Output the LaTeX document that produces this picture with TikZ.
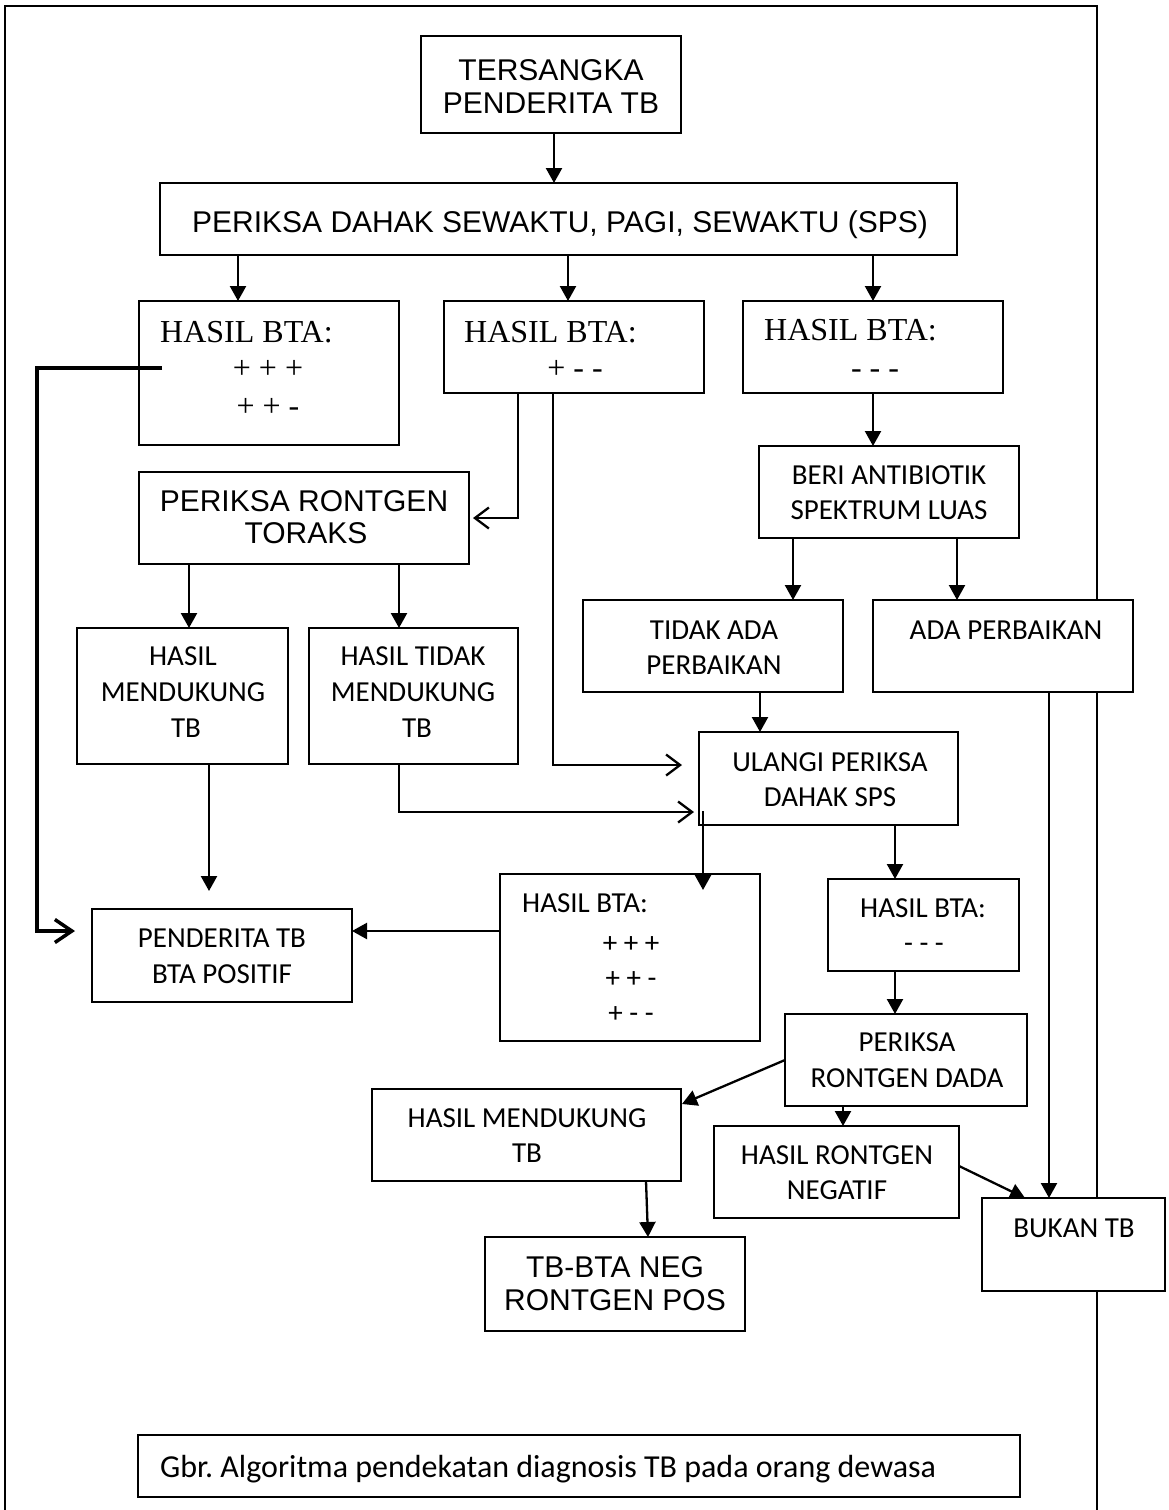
\documentclass[tikz,border=0pt]{standalone}
\usepackage{fontspec}
\setmainfont{Carlito}
\newfontfamily\fA{Liberation Sans}
\newfontfamily\fT{Liberation Serif}
\newfontfamily\fC{Carlito}
\usetikzlibrary{arrows.meta,calc}
\frenchspacing
\begin{document}
\begin{tikzpicture}[x=1pt,y=-1pt,
  bx/.style={draw, line width=1.4pt, fill=white, inner sep=0pt, outer sep=0pt, rectangle},
  ln/.style={line width=2.3pt},
  fa/.style={ln, -{Triangle[length=15pt,width=16pt]}},
  oa/.style={ln, -{Straight Barb[length=14pt,width=21pt]}},
  thk/.style={line width=3.5pt, -{Straight Barb[length=17pt,width=23pt]}},
  frm/.style={line width=1.5pt},
  tA/.style={inner sep=0pt, anchor=base, font=\fA\fontsize{30pt}{33pt}\selectfont},
  tT/.style={inner sep=0pt, anchor=base west, font=\fT\fontsize{32pt}{36pt}\selectfont},
  tTc/.style={tT, anchor=base},
  tC/.style={inner sep=0pt, anchor=base, font=\fC\fontsize{29pt}{34pt}\selectfont},
  tCl/.style={tC, anchor=base west},
  tCap/.style={inner sep=0pt, anchor=base west, font=\fC\fontsize{32pt}{36pt}\selectfont}
]
\useasboundingbox (0,0) rectangle (1168,1510);
\fill[white] (0,0) rectangle (1168,1510);
% outer frame
\draw[frm] (5,1512) -- (5,6) -- (1097,6) -- (1097,1512);

% boxes
\node[bx, minimum width=260pt, minimum height=97pt] (ters) at (551,84.5) {};
\node[bx, minimum width=797pt, minimum height=72pt] (dahak) at (558.5,219) {};
\node[bx, minimum width=260pt, minimum height=144pt] (bta1) at (269,373) {};
\node[bx, minimum width=260pt, minimum height=92pt] (bta2) at (574,347) {};
\node[bx, minimum width=260pt, minimum height=92pt] (bta3) at (873,347) {};
\node[bx, minimum width=330pt, minimum height=92pt] (rontgen) at (304,518) {};
\node[bx, minimum width=260pt, minimum height=92pt] (beri) at (889,492) {};
\node[bx, minimum width=211pt, minimum height=136pt] (hm1) at (182.5,696) {};
\node[bx, minimum width=209pt, minimum height=136pt] (htm) at (413.5,696) {};
\node[bx, minimum width=260pt, minimum height=92pt] (tidak) at (713,646) {};
\node[bx, minimum width=260pt, minimum height=92pt] (ada) at (1003,646) {};
\node[bx, minimum width=259pt, minimum height=93pt] (ulangi) at (828.5,778.5) {};
\node[bx, minimum width=260pt, minimum height=93pt] (pend) at (222,955.5) {};
\node[bx, minimum width=260pt, minimum height=167pt] (bta4) at (630,957.5) {};
\node[bx, minimum width=191pt, minimum height=92pt] (bta5) at (923.5,925) {};
\node[bx, minimum width=242pt, minimum height=92pt] (prd) at (906,1060) {};
\node[bx, minimum width=309pt, minimum height=92pt] (hm2) at (526.5,1135) {};
\node[bx, minimum width=245pt, minimum height=92pt] (hrn) at (836.5,1172) {};
\node[bx, minimum width=183pt, minimum height=93pt] (bukan) at (1073.5,1244.5) {};
\node[bx, minimum width=260pt, minimum height=94pt] (tbneg) at (615,1284) {};
\node[bx, minimum width=882pt, minimum height=62pt] (cap) at (579,1466) {};

% texts
\node[tA] (t1) at (551,80) {TERSANGKA};
\node[tA] (t2) at (551,113) {PENDERITA TB};
\node[tA] (t3) at (560,232) {PERIKSA DAHAK SEWAKTU, PAGI, SEWAKTU (SPS)};
\node[tT] (t4) at (160,342) {HASIL BTA:};
\node[tTc] (t5) at (268,378) {+ + +};
\node[tTc] (t6) at (268,416) {+ + -};
\node[tT] (t7) at (464,342) {HASIL BTA:};
\node[tTc] (t8) at (575,378) {+ - -};
\node[tT] (t9) at (764,340) {HASIL BTA:};
\node[tTc] (t10) at (875,378) {- - -};
\node[tA] (t11) at (304,511) {PERIKSA RONTGEN};
\node[tA] (t12) at (306,543) {TORAKS};
\node[tC] (t13) at (889,484) {BERI ANTIBIOTIK};
\node[tC] (t14) at (889,519) {SPEKTRUM LUAS};
\node[tC] (t15) at (183,665) {HASIL};
\node[tC] (t16) at (183,701) {MENDUKUNG};
\node[tC] (t17) at (186,737) {TB};
\node[tC] (t18) at (413,665) {HASIL TIDAK};
\node[tC] (t19) at (413,701) {MENDUKUNG};
\node[tC] (t20) at (417,737) {TB};
\node[tC] (t21) at (714,639) {TIDAK ADA};
\node[tC] (t22) at (714,674) {PERBAIKAN};
\node[tC] (t23) at (1006,639) {ADA PERBAIKAN};
\node[tC] (t24) at (830,771) {ULANGI PERIKSA};
\node[tC] (t25) at (830,806) {DAHAK SPS};
\node[tC] (t26) at (222,947) {PENDERITA TB};
\node[tC] (t27) at (222,983) {BTA POSITIF};
\node[tCl] (t28) at (522,912) {HASIL BTA:};
\node[tC] (t29) at (631,952) {+ + +};
\node[tC] (t30) at (631,987) {+ + -};
\node[tC] (t31) at (631,1022) {+ - -};
\node[tCl] (t32) at (860,917) {HASIL BTA:};
\node[tC] (t33) at (924,952) {- - -};
\node[tC] (t34) at (907,1051) {PERIKSA};
\node[tC] (t35) at (907,1087) {RONTGEN DADA};
\node[tC] (t36) at (527,1127) {HASIL MENDUKUNG};
\node[tC] (t37) at (527,1162) {TB};
\node[tC] (t38) at (837,1164) {HASIL RONTGEN};
\node[tC] (t39) at (837,1199) {NEGATIF};
\node[tC] (t40) at (1074,1237) {BUKAN TB};
\node[tA] (t41) at (615,1277) {TB-BTA NEG};
\node[tA] (t42) at (615,1310) {RONTGEN POS};
\node[tCap] (t43) at (160,1477) {Gbr. Algoritma pendekatan diagnosis TB pada orang dewasa};

% connectors
\draw[fa] (ters.south -| 554,0) -- (dahak.north -| 554,0);
\draw[fa] (dahak.south -| 238,0) -- (bta1.north -| 238,0);
\draw[fa] (dahak.south -| 568,0) -- (bta2.north -| 568,0);
\draw[fa] (dahak.south -| 873,0) -- (bta3.north -| 873,0);

\coordinate (k1) at ($(bta1.west)+(23,-5)$);
\coordinate (kx) at ($(pend.west)+(-55,-24.5)$);
\coordinate (k2) at ($(pend.west)+(-17,-24.5)$);
\draw[thk] (k1) -| (kx) -- (k2);

\draw[oa] (bta2.south -| 518,0) |- ([xshift=4pt]rontgen.east);
\draw[oa] (bta2.south -| 553,0) |- ($(ulangi.west)+(-17,-13.5)$);
\draw[fa] (bta3.south) -- (beri.north -| bta3.south);

\draw[fa] (rontgen.south -| 189,0) -- (hm1.north -| 189,0);
\draw[fa] (rontgen.south -| 399,0) -- (htm.north -| 399,0);
\draw[fa] (hm1.south -| 209,0) -- ($(pend.north -| 209,0)+(0,-18)$);
\draw[oa] (htm.south -| 399,0) |- ($(ulangi.south west)+(-5,-13)$);

\draw[fa] (beri.south -| 793,0) -- (tidak.north -| 793,0);
\draw[fa] (beri.south -| 957,0) -- (ada.north -| 957,0);
\draw[fa] (tidak.south -| 760,0) -- (ulangi.north -| 760,0);

\draw[fa] ($(ulangi.south west)+(4,-14)$) -- ($(bta4.north west)+(203,16)$);
\draw[fa] (ulangi.south -| 895,0) -- (bta5.north -| 895,0);
\draw[fa] (bta5.south -| 895,0) -- (prd.north -| 895,0);
\draw[fa] (bta4.west |- 0,931) -- (pend.east |- 0,931);

\draw[fa] (prd.west) -- ($(hm2.north east)+(1,15)$);
\draw[fa] (prd.south -| 843,0) -- (hrn.north -| 843,0);
\draw[fa] ($(hrn.east)+(0,-6)$) -- (bukan.north -| 1025,0);
\draw[fa] (ada.south -| 1049,0) -- (bukan.north -| 1049,0);
\draw[fa] (hm2.south -| 646,0) -- (tbneg.north -| 648,0);
\end{tikzpicture}
\end{document}
